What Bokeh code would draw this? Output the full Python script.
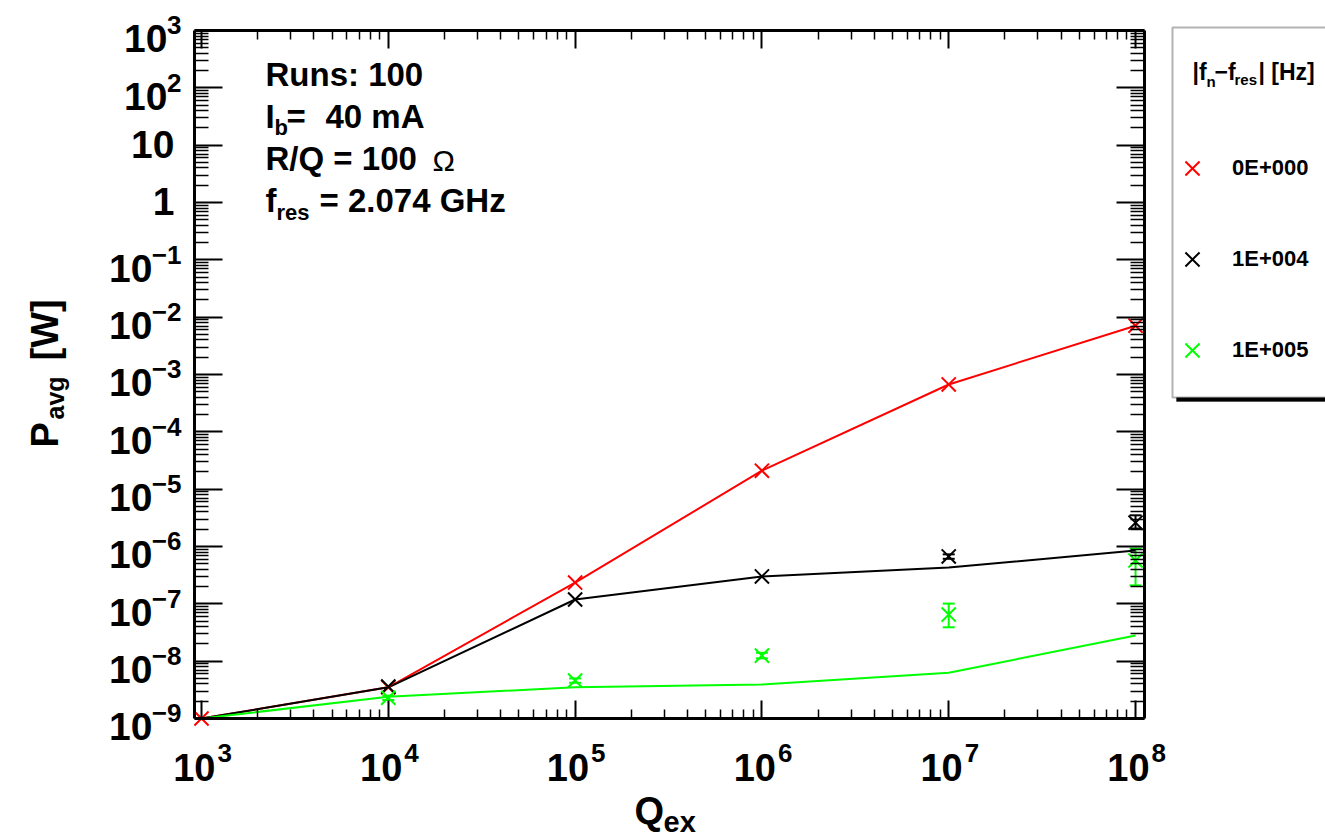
import math
from bokeh.plotting import figure
from bokeh.models import (Range1d, LogAxis, FixedTicker, CustomJSTickFormatter, Label,
                          Legend, LegendItem, BoxAnnotation, Whisker, ColumnDataSource, TeeHead)
from bokeh.core.properties import value
from bokeh.embed import file_html
from bokeh.resources import INLINE

# ---------------- data ----------------
q_line = [1e3, 1e4, 1e5, 1e6, 1e7, 1e8]
red_line = [1e-9, 3.5e-9, 2.35e-7, 2.1e-5, 6.7e-4, 7.1e-3]
black_line = [1e-9, 3.5e-9, 1.19e-7, 3.0e-7, 4.3e-7, 8.5e-7]
green_line = [1e-9, 2.4e-9, 3.5e-9, 3.9e-9, 6.3e-9, 2.8e-8]

q_red_pts = [1e3, 1e4, 1e5, 1e6, 1e7, 1e8]
red_pts = [1e-9, 3.5e-9, 2.35e-7, 2.1e-5, 6.7e-4, 7.1e-3]

q_pts = [1e4, 1e5, 1e6, 1e7, 1e8]
black_pts = [3.6e-9, 1.19e-7, 3.0e-7, 6.7e-7, 2.6e-6]
black_lo = [3.6e-9, 1.19e-7, 3.0e-7, 6.1e-7, 2.06e-6]
black_hi = [3.6e-9, 1.19e-7, 3.0e-7, 7.3e-7, 3.5e-6]
green_pts = [2.3e-9, 4.6e-9, 1.25e-8, 6.5e-8, 5.7e-7]
green_lo = [2.1e-9, 4.2e-9, 1.12e-8, 3.9e-8, 2.1e-7]
green_hi = [2.5e-9, 5.0e-9, 1.4e-8, 1.01e-7, 9.2e-7]

legend_labels = ["0E+000", "1E+004", "1E+005"]
x_exps = [3, 4, 5, 6, 7, 8]
y_exps = list(range(-9, 4))

RED, BLACK, GREEN = "#ff0000", "#000000", "#00ff00"
FONT = "Liberation Sans"

# ---------------- geometry ----------------
W, H = 1325, 840
FL, FR, FT, FB = 194, 1144, 30, 718          # inner plot box in canvas pixels
XL, XR = 2.9625, 8.048                        # log10 limits of the inner box
YB, YT = y_exps[0], y_exps[-1]
kx = (FR - FL) / (XR - XL)
ky = (FB - FT) / (YT - YB)
x0, x1 = XL - FL / kx, XR + (W - FR) / kx
y0, y1 = YB - (H - FB) / ky, YT + FT / ky
BASE_FIX = 0.35   # baseline correction (fraction of font size)


def sx(cx):
    return cx


def sy(cy):
    return H - cy


p = figure(width=W, height=H, x_axis_type="log", y_axis_type="log",
           x_range=Range1d(10 ** x0, 10 ** x1), y_range=Range1d(10 ** y0, 10 ** y1),
           output_backend="svg", toolbar_location=None, min_border=0)
p.background_fill_color = "white"
p.border_fill_color = "white"
p.outline_line_color = None
p.grid.visible = False

xt = FixedTicker(ticks=[10.0 ** k for k in x_exps],
                 minor_ticks=[m * 10.0 ** k for k in x_exps[:-1] for m in range(2, 10)])
yt = FixedTicker(ticks=[10.0 ** k for k in y_exps],
                 minor_ticks=[m * 10.0 ** k for k in y_exps[:-1] for m in range(2, 10)])


def style_axis(ax, ticker, major, minor, loc, bounds):
    ax.ticker = ticker
    ax.formatter = CustomJSTickFormatter(code="return ''")
    ax.fixed_location = loc
    ax.bounds = bounds
    ax.axis_line_width = 3
    ax.axis_line_color = "black"
    ax.major_tick_in = major
    ax.major_tick_out = 0
    ax.minor_tick_in = minor
    ax.minor_tick_out = 0
    ax.major_tick_line_width = 2
    ax.minor_tick_line_width = 1.5
    ax.major_label_standoff = 0


xb = (10 ** XL, 10 ** XR)
yb = (10.0 ** YB, 10.0 ** YT)
style_axis(p.xaxis[0], xt, 18, 9, 10.0 ** YB, xb)
style_axis(p.yaxis[0], yt, 28, 14, 10 ** XL, yb)
top_ax = LogAxis()
p.add_layout(top_ax, "above")
style_axis(top_ax, xt, 18, 9, 10.0 ** YT, xb)
right_ax = LogAxis()
p.add_layout(right_ax, "right")
style_axis(right_ax, yt, 28, 14, 10 ** XR, yb)

# ---------------- lines ----------------
p.line(q_line, red_line, line_color=RED, line_width=2)
p.line(q_line, black_line, line_color=BLACK, line_width=2)
p.line(q_line, green_line, line_color=GREEN, line_width=2)

# ---------------- error bars ----------------
for qs, lo, hi, col in [(q_pts, black_lo, black_hi, BLACK), (q_pts, green_lo, green_hi, GREEN)]:
    idx = [i for i in range(len(qs)) if hi[i] > lo[i]]
    src = ColumnDataSource(dict(x=[qs[i] for i in idx], lo=[lo[i] for i in idx], hi=[hi[i] for i in idx]))
    wk = Whisker(source=src, base="x", lower="lo", upper="hi", line_color=col, line_width=2,
                 upper_head=TeeHead(size=12, line_color=col, line_width=2),
                 lower_head=TeeHead(size=12, line_color=col, line_width=2))
    p.add_layout(wk)

# ---------------- markers ----------------
MS = 20
r_red = p.scatter(q_red_pts, red_pts, marker="x", size=MS, line_color=RED, line_width=2)
r_black = p.scatter(q_pts, black_pts, marker="x", size=MS, line_color=BLACK, line_width=2)
r_green = p.scatter(q_pts, green_pts, marker="x", size=MS, line_color=GREEN, line_width=2)


def lab(text, x, y, size, xu="screen", yu="screen", align="left",
        angle=0.0, xo=0, yo=0, bold=True):
    # position given as the alphabetic baseline; compensate renderer offset
    if angle == 0:
        yo = yo + BASE_FIX * size
    else:
        xo = xo - BASE_FIX * size
    p.add_layout(Label(x=x, y=y, x_units=xu, y_units=yu, text=text, text_font=FONT,
                       text_font_style="bold" if bold else "normal", text_font_size=f"{size}px",
                       text_align=align, text_baseline="alphabetic", angle=angle,
                       text_color="black", x_offset=xo, y_offset=yo))


def sup(k):
    return ("\u2212" + str(-k)) if k < 0 else str(k)


# ---------------- legend box (drawn under the text) ----------------
shadow = BoxAnnotation(left=sx(1176), right=sx(1350), top=sy(31), bottom=sy(401),
                       left_units="screen", right_units="screen", top_units="screen", bottom_units="screen",
                       fill_color="black", fill_alpha=1.0, line_color="black", line_width=1)
box = BoxAnnotation(left=sx(1172), right=sx(1345), top=sy(27), bottom=sy(397),
                    left_units="screen", right_units="screen", top_units="screen", bottom_units="screen",
                    fill_color="white", fill_alpha=1.0, line_color="black", line_width=2)
p.add_layout(shadow)
p.add_layout(box)

# y tick labels
for k in y_exps:
    if k in (0, 1):
        lab("1" if k == 0 else "10", sx(174), 10.0 ** k, 39, yu="data", align="right", yo=-13)
    else:
        e = sup(k)
        lab(e, sx(181), 10.0 ** k, 26, yu="data", align="right", yo=-4)
        lab("10", sx(182 - 15 * len(e)), 10.0 ** k, 39, yu="data", align="right", yo=-22)

# x tick labels
for k in x_exps:
    lab("10", 10.0 ** k, sy(780), 38, xu="data", align="right", xo=14)
    lab(sup(k), 10.0 ** k, sy(762), 26, xu="data", align="left", xo=16)

# axis titles
lab("Q", sx(634), sy(824), 38)
lab("ex", sx(663), sy(832), 29)
lab("P", sx(58), sy(447), 38, angle=math.pi / 2)
lab("avg", sx(63), sy(419), 25, angle=math.pi / 2)
lab("[W]", sx(58), sy(360), 38, angle=math.pi / 2)

# info text
lab("Runs: 100", sx(265), sy(86), 33)
lab("I", sx(265), sy(128), 33)
lab("b", sx(274), sy(135), 22)
lab("=", sx(286), sy(128), 33)
lab("40 mA", sx(325), sy(128), 33)
lab("R/Q = 100", sx(265), sy(170), 33)
lab("\u03a9", sx(432), sy(170), 30, bold=False)
lab("f", sx(265), sy(212), 33)
lab("res", sx(276), sy(220), 22)
lab("= 2.074 GHz", sx(319), sy(212), 33)

# ---------------- legend ----------------
G = 50
legend = Legend(items=[LegendItem(label=value(t), renderers=[r])
                       for t, r in zip(legend_labels, [r_red, r_black, r_green])],
                location=(sx(1192 - G / 2), sy(168 - G / 2 + 3 * G + 2 * (91 - G))),
                orientation="vertical",
                glyph_width=G, glyph_height=G, label_height=G, spacing=91 - G,
                padding=0, margin=0, label_standoff=1232 - (1192 + G // 2),
                border_line_alpha=0, background_fill_alpha=0,
                label_text_font=FONT, label_text_font_style="bold", label_text_font_size="22px",
                label_text_color="black")
p.add_layout(legend)

# legend header |f_n - f_res| [Hz]
lab("|f", sx(1192), sy(80), 23)
lab("n", sx(1206), sy(86), 15)
lab("\u2212f", sx(1214), sy(80), 23)
lab("res", sx(1234), sy(84), 15)
lab("| [Hz]", sx(1258), sy(80), 23)

open("out.html", "w").write(file_html(p, INLINE))
